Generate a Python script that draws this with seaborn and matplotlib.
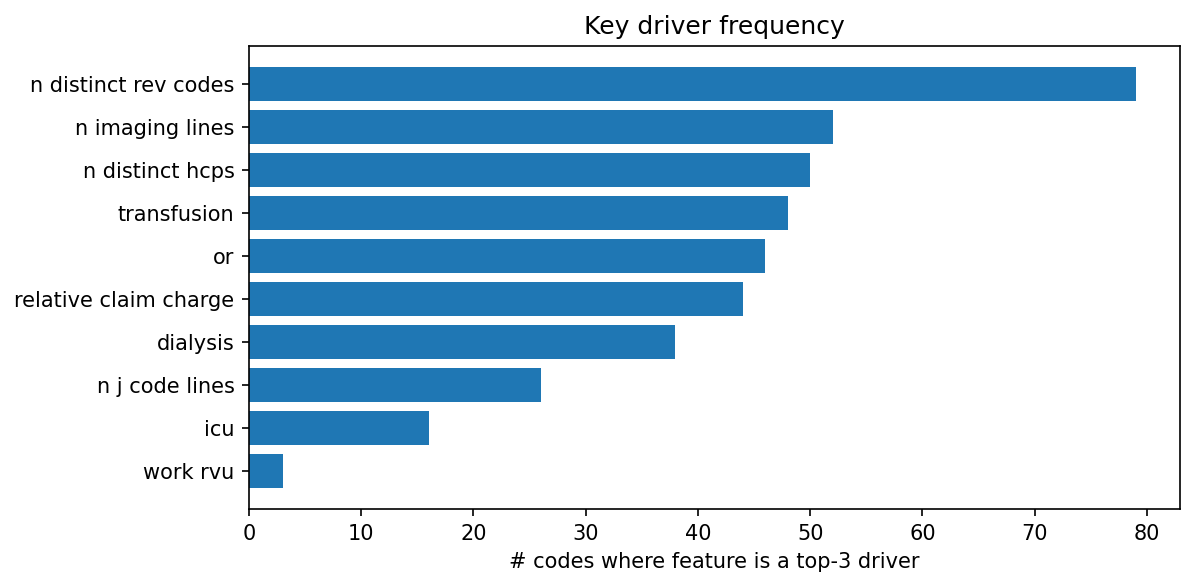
import matplotlib
matplotlib.use("Agg")
import matplotlib.pyplot as plt
import seaborn as sns
import pandas as pd

features = ['n distinct rev codes', 'n imaging lines', 'n distinct hcps', 'transfusion', 'or',
            'relative claim charge', 'dialysis', 'n j code lines', 'icu', 'work rvu']
counts = [79, 52, 50, 48, 46, 44, 38, 26, 16, 3]

df = pd.DataFrame({'feature': features, 'count': counts})

fig = plt.figure(figsize=(7.96, 3.907), dpi=150)
ax = fig.add_axes([249 / 1194, 1 - 509 / 586, (1180 - 249) / 1194, (509 - 46) / 586])
sns.barplot(data=df, x='count', y='feature', orient='h', color='#1f77b4',
            saturation=1, width=0.8, ax=ax)

ax.set_xlim(0, max(counts) * 1.05)
ax.set_ylim(len(features) - 0.6 + 0.49, -0.4 - 0.49)
ax.set_title('Key driver frequency', fontsize=12)
ax.set_xlabel('# codes where feature is a top-3 driver', fontsize=10)
ax.set_ylabel('')
ax.tick_params(labelsize=10)

fig.savefig('out.png', dpi=150)
